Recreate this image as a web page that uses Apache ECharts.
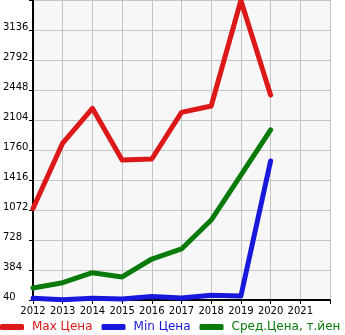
<!DOCTYPE html>
<html><head><meta charset="utf-8">
<script src="https://cdn.jsdelivr.net/npm/echarts@6/dist/echarts.min.js"></script>
<style>html,body{margin:0;padding:0;background:#fff}#c{width:345px;height:335px}</style>
</head><body><div id="c"></div>
<script>
const years = [2012, 2013, 2014, 2015, 2016, 2017, 2018, 2019, 2020];
const maxPrice = [1090, 1840, 2238, 1645, 1657, 2192, 2265, 3475, 2390];
const minPrice = [59, 42, 59, 52, 80, 63, 94, 86, 1634];
const avgPrice = [178, 238, 353, 304, 510, 625, 957, 1473, 1990];
const seriesNames = ['Max Цена', 'Min Цена', 'Сред.Цена, т.йен'];
const colors = ['#dd1818', '#1818dd', '#0a7a0a'];

const chart = echarts.init(document.getElementById('c'), null, {renderer: 'canvas'});
const mk = (arr) => years.map((y, i) => [y, arr[i]]);
chart.setOption({
  animation: false,
  textStyle: {fontFamily: 'DejaVu Sans'},
  grid: {left: 31, right: 15, top: 0, bottom: 35, show: true, backgroundColor: '#f7f7f7', borderWidth: 0},
  xAxis: {
    type: 'value', min: 2012, max: 2022, interval: 1,
    axisLine: {lineStyle: {color: '#000', width: 2}},
    axisTick: {show: true, length: 4, lineStyle: {color: '#000'}},
    axisLabel: {color: '#000', fontSize: 10, margin: 6,
      formatter: v => v === 2022 ? '' : String(v)},
    splitLine: {show: true, lineStyle: {color: '#c4c4c4', width: 1}}
  },
  yAxis: {
    type: 'value', min: 40, max: 3480, interval: 344,
    axisLine: {show: true, lineStyle: {color: '#000', width: 2}},
    axisTick: {show: true, length: 4, lineStyle: {color: '#000'}},
    axisLabel: {color: '#000', fontSize: 10, margin: 30, align: 'left',
      verticalAlign: 'bottom', lineHeight: 6,
      formatter: v => v === 3480 ? '' : String(v)},
    splitLine: {show: true, lineStyle: {color: '#c4c4c4', width: 1}}
  },
  legend: {
    left: 0, bottom: 2, padding: 0, width: 600, itemWidth: 24, itemHeight: 6, itemGap: 9,
    icon: 'roundRect',
    data: seriesNames.map((n, i) => ({name: n, textStyle: {color: colors[i]}})),
    textStyle: {fontSize: 12, fontFamily: 'DejaVu Sans', padding: [0, 0, 0, 3]}
  },
  series: [maxPrice, minPrice, avgPrice].map((d, i) => ({
    name: seriesNames[i], type: 'line', data: mk(d), showSymbol: false, symbol: 'none',
    lineStyle: {color: colors[i], width: 5, cap: 'round', join: 'round'},
    itemStyle: {color: colors[i]}
  }))
});
</script></body></html>
